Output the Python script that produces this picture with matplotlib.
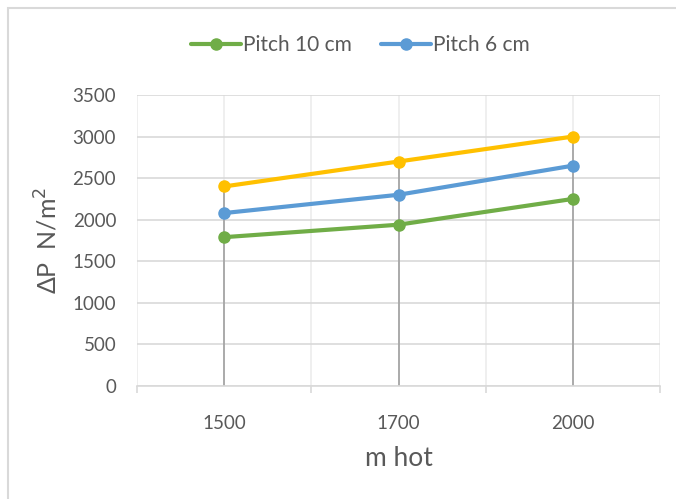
import matplotlib.pyplot as plt
from matplotlib.patches import Rectangle
from matplotlib.ticker import MultipleLocator

plt.rcParams['font.family'] = ['Lato', 'DejaVu Sans']

categories = ['1500', '1700', '2000']
pitch_10 = [1790, 1940, 2250]
pitch_6 = [2080, 2300, 2650]
series3 = [2400, 2700, 3000]

text_col = '#595959'
grid_col = '#d9d9d9'

fig = plt.figure(figsize=(6.76, 4.99), dpi=100)
ax = fig.add_axes([137 / 676, 113 / 499, 523 / 676, 291 / 499])

x = range(len(categories))

# drop lines from the highest point down to the axis
tops = [max(v) for v in zip(pitch_10, pitch_6, series3)]
ax.vlines(x, 0, tops, color='#a5a5a5', lw=1.3, zorder=2)

ax.plot(x, pitch_10, color='#70ad47', lw=3, marker='o', ms=8,
        label='Pitch 10 cm', zorder=3, solid_capstyle='round')
ax.plot(x, pitch_6, color='#5b9bd5', lw=3, marker='o', ms=8,
        label='Pitch 6 cm', zorder=3, solid_capstyle='round')
ax.plot(x, series3, color='#ffc000', lw=3, marker='o', ms=8,
        zorder=3, solid_capstyle='round')

ax.set_xlim(-0.5, len(categories) - 0.5)
ax.set_ylim(0, 3500)
ax.yaxis.set_major_locator(MultipleLocator(500))

ax.set_xticks(list(x))
ax.set_xticklabels(categories)
ax.set_xticks([i - 0.5 for i in range(len(categories) + 1)], minor=True)

ax.grid(axis='y', color=grid_col, lw=1.2, zorder=0)
for xv in [i * 0.5 - 0.5 for i in range(2 * len(categories) + 1)]:
    ax.axvline(xv, color='#ececec', lw=1.2, zorder=0)

for s in ['top', 'right', 'left']:
    ax.spines[s].set_visible(False)
ax.spines['bottom'].set_color(grid_col)
ax.spines['bottom'].set_linewidth(1.2)

ax.tick_params(axis='x', which='major', length=0, pad=21,
               labelsize=13.5, labelcolor=text_col)
ax.tick_params(axis='x', which='minor', length=5, width=1.2, color=grid_col)
ax.tick_params(axis='y', length=0, pad=15, labelsize=13.5, labelcolor=text_col)

ax.set_xlabel('m hot', fontsize=19, color=text_col, labelpad=10)
ax.set_ylabel('ΔP  N/m$^2$', fontsize=18, color=text_col, labelpad=8)

fig.legend(loc='center', bbox_to_anchor=(360 / 676, 1 - 45 / 499), ncol=2,
           frameon=False, fontsize=15, labelcolor=text_col,
           handlelength=2.4, handletextpad=0.1, columnspacing=1.4)

# outer frame
fig.patches.append(Rectangle((8 / 676, -0.1), 1.2, 1.1 - 8 / 499,
                             transform=fig.transFigure, fill=False,
                             ec=grid_col, lw=1.5))

fig.savefig('out.png', dpi=100)
